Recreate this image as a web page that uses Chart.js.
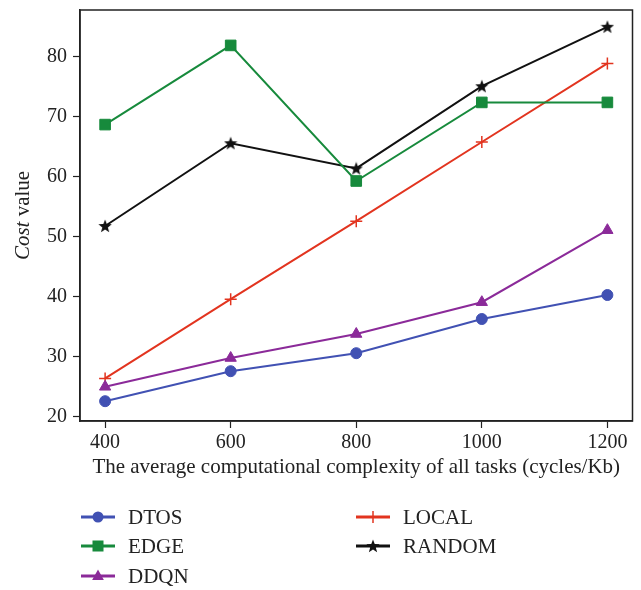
<!DOCTYPE html>
<html><head><meta charset="utf-8">
<script src="https://cdn.jsdelivr.net/npm/chart.js@4/dist/chart.umd.min.js"></script>
<style>html,body{margin:0;padding:0;background:#fff}#wrap{width:641px;height:590px;position:relative}</style>
</head><body><div id="wrap"><canvas id="c" width="641" height="590"></canvas></div>
<script>
const categories = [400, 600, 800, 1000, 1200];
const dtos = [22.6, 27.6, 30.6, 36.3, 40.3];
const edge = [68.7, 81.9, 59.3, 72.4, 72.4];
const ddqn = [25.0, 29.8, 33.8, 39.1, 51.1];
const local = [26.4, 39.6, 52.6, 65.8, 78.9];
const random = [51.8, 65.6, 61.4, 75.1, 85.0];
const yTicks = [20, 30, 40, 50, 60, 70, 80];
const seriesNames = ['DTOS', 'EDGE', 'DDQN', 'LOCAL', 'RANDOM'];
const xTitle = 'The average computational complexity of all tasks (cycles/Kb)';

const FONT = '"Liberation Serif", "DejaVu Serif", serif';

function makeStar(size, color) {
  const c = document.createElement('canvas');
  c.width = size; c.height = size;
  const g = c.getContext('2d');
  const cx = size / 2, cy = size / 2 + 0.5, R = size / 2, r = R * 0.42;
  g.beginPath();
  for (let i = 0; i < 10; i++) {
    const rad = i % 2 === 0 ? R : r;
    const a = -Math.PI / 2 + i * Math.PI / 5;
    const x = cx + rad * Math.cos(a), y = cy + rad * Math.sin(a);
    if (i === 0) g.moveTo(x, y); else g.lineTo(x, y);
  }
  g.closePath();
  g.fillStyle = color; g.fill();
  return c;
}
const starImg = makeStar(14, '#111');

const colors = ['#4151b3', '#178a3c', '#8b2a99', '#e2341f', '#111111'];
const styles = ['circle', 'rect', 'triangle', 'cross', starImg];
const radii = [5.5, 7.5, 6.5, 6, 7];
const legendR = [5.5, 5.5, 6.5, 6, 7];
const values = [dtos, edge, ddqn, local, random];

const datasets = seriesNames.map((n, i) => ({
  label: n,
  data: categories.map((x, j) => ({x: x, y: values[i][j]})),
  borderColor: colors[i],
  backgroundColor: colors[i],
  borderWidth: 2,
  pointStyle: styles[i],
  pointRadius: radii[i],
  pointBorderWidth: i === 3 ? 1.5 : 1,
  pointBorderColor: colors[i],
  pointBackgroundColor: colors[i],
  tension: 0,
  clip: false
}));

function drawMarker(ctx, style, color, r, x, y) {
  ctx.save();
  ctx.fillStyle = color; ctx.strokeStyle = color;
  if (style instanceof HTMLCanvasElement) {
    ctx.drawImage(style, x - style.width / 2, y - style.height / 2);
  } else if (style === 'circle') {
    ctx.beginPath(); ctx.arc(x, y, r, 0, Math.PI * 2); ctx.fill();
  } else if (style === 'rect') {
    const s = r; ctx.fillRect(x - s, y - s, 2 * s, 2 * s);
  } else if (style === 'triangle') {
    ctx.beginPath();
    ctx.moveTo(x, y - r); ctx.lineTo(x + r * 0.9, y + r * 0.6); ctx.lineTo(x - r * 0.9, y + r * 0.6);
    ctx.closePath(); ctx.fill();
  } else if (style === 'cross') {
    ctx.lineWidth = 1.5;
    ctx.beginPath(); ctx.moveTo(x, y - r); ctx.lineTo(x, y + r); ctx.stroke();
  }
  ctx.restore();
}

const extras = {
  id: 'extras',
  afterDraw(chart) {
    const ctx = chart.ctx, a = chart.chartArea;
    ctx.save();
    ctx.strokeStyle = '#222'; ctx.lineWidth = 1.5;
    ctx.strokeRect(a.left, a.top, a.right - a.left, a.bottom - a.top);
    ctx.translate(23, (a.top + a.bottom) / 2);
    ctx.rotate(-Math.PI / 2);
    ctx.fillStyle = '#222';
    ctx.textBaseline = 'middle';
    const f1 = 'italic 21px ' + FONT, f2 = '21px ' + FONT;
    ctx.font = f1; const w1 = ctx.measureText('Cost').width;
    ctx.font = f2; const w2 = ctx.measureText(' value').width;
    const sx = -(w1 + w2) / 2;
    ctx.font = f1; ctx.fillText('Cost', sx, 0);
    ctx.font = f2; ctx.fillText(' value', sx + w1, 0);
    ctx.restore();
    const pos = [[81, 517], [81, 546], [81, 576], [356, 517], [356, 546]];
    chart.data.datasets.forEach((d, i) => {
      const [lx, ly] = pos[i];
      ctx.save();
      ctx.strokeStyle = d.borderColor; ctx.lineWidth = 3;
      ctx.beginPath(); ctx.moveTo(lx, ly); ctx.lineTo(lx + 34, ly); ctx.stroke();
      drawMarker(ctx, d.pointStyle, d.borderColor, legendR[i], lx + 17, ly);
      ctx.fillStyle = '#222';
      ctx.font = '21px ' + FONT;
      ctx.textBaseline = 'middle';
      ctx.fillText(d.label, lx + 47, ly + 1);
      ctx.restore();
    });
  }
};

function zeroPad(s) { s.paddingTop = 0; s.paddingBottom = 0; s.paddingLeft = 0; s.paddingRight = 0; }

new Chart(document.getElementById('c'), {
  type: 'line',
  data: {datasets: datasets},
  options: {
    responsive: false,
    animation: false,
    devicePixelRatio: 1,
    layout: {padding: {top: 10, right: 8, left: 0, bottom: 110}},
    plugins: {legend: {display: false}, tooltip: {enabled: false}},
    scales: {
      x: {
        type: 'linear', min: 360, max: 1240,
        afterBuildTicks: s => { s.ticks = categories.map(v => ({value: v})); },
        afterFit: s => { s.height = 59; zeroPad(s); },
        grid: {display: true, drawOnChartArea: false, tickLength: 7, color: '#222', tickWidth: 1.2},
        border: {display: true, color: '#222', width: 1.5},
        ticks: {font: {family: FONT, size: 20}, color: '#222', padding: 3, maxRotation: 0, callback: v => String(v)},
        title: {display: true, text: xTitle, font: {family: FONT, size: 21}, color: '#222', padding: {top: 0, bottom: 0}}
      },
      y: {
        type: 'linear', min: 19.3, max: 87.8,
        afterBuildTicks: s => { s.ticks = yTicks.map(v => ({value: v})); },
        afterFit: s => { s.width = 80; zeroPad(s); },
        grid: {display: true, drawOnChartArea: false, tickLength: 7, color: '#222', tickWidth: 1.2},
        border: {display: true, color: '#222', width: 1.5},
        ticks: {font: {family: FONT, size: 20}, color: '#222', padding: 6, callback: v => String(v)},
        title: {display: false}
      }
    }
  },
  plugins: [extras]
});
</script></body></html>
